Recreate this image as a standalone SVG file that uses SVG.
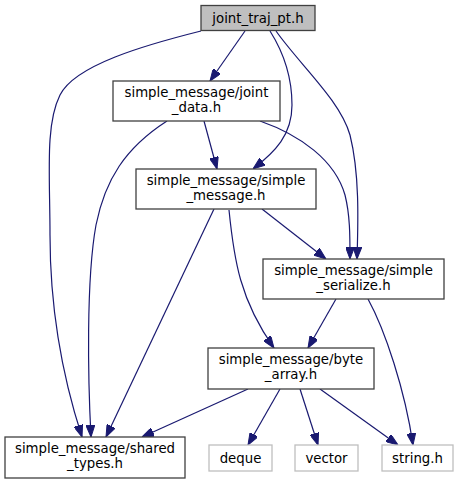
<svg xmlns="http://www.w3.org/2000/svg" width="459" height="484" viewBox="0 0 459 484">
<defs>
<marker id="ah" markerUnits="userSpaceOnUse" markerWidth="12" markerHeight="9" refX="12" refY="4.5" orient="auto">
<path d="M0,0 L12,4.5 L0,9 z" fill="#191970" stroke="#191970" stroke-width="1"/>
</marker>
<style>
.n rect{fill:#fff;stroke:#404040;stroke-width:1.3}
.x rect{fill:#fff;stroke:#bfbfbf;stroke-width:1.3}
.cur rect{fill:#bfbfbf;stroke:#404040;stroke-width:1.3}
text{font-family:"DejaVu Sans",sans-serif;font-size:13.3px;fill:#000;text-anchor:middle}
.e path{fill:none;stroke:#191970;stroke-width:1.2;marker-end:url(#ah)}
</style>
</defs>
<rect width="459" height="484" fill="#fff"/>
<g class="e" id="edges">
<path d="M201,31 C145,45 75,65 60,95 C45,125 50,175 50,235 C50,330 70,400 82,437"/>
<path d="M245,31 L210,81"/>
<path d="M270,31 C282,50 292,75 292,105 C292,135 275,152 253,169"/>
<path d="M276,31 C300,65 340,100 350,135 C360,175 358,225 357,259"/>
<path d="M204,121 L217,169"/>
<path d="M167,121 C125,148 105,180 96,225 C86,280 88,380 91,437"/>
<path d="M260,121 C300,135 335,160 345,195 C350,215 350,235 350,259"/>
<path d="M262,209 L326,259"/>
<path d="M229,210 C234,260 240,300 274,348"/>
<path d="M214,209 L106,437"/>
<path d="M336,299 L308,348"/>
<path d="M368,299 C385,330 405,390 413,445"/>
<path d="M248,389 L142,437"/>
<path d="M280,389 L248,445"/>
<path d="M300,389 L318,445"/>
<path d="M320,389 L398,445"/>
</g>
<g id="joint_traj_pt" class="cur"><rect x="201" y="5.5" width="114" height="25"/><text x="258" y="22.5">joint_traj_pt.h</text></g>
<g id="joint_data" class="n"><rect x="113" y="81" width="167" height="40"/><text x="196.5" y="96.5">simple_message/joint</text><text x="196.5" y="111.5">_data.h</text></g>
<g id="simple_message" class="n"><rect x="136" y="169" width="180" height="40"/><text x="226" y="184.5">simple_message/simple</text><text x="226" y="199.5">_message.h</text></g>
<g id="simple_serialize" class="n"><rect x="263" y="259" width="181" height="40"/><text x="353.5" y="274.5">simple_message/simple</text><text x="353.5" y="289.5">_serialize.h</text></g>
<g id="byte_array" class="n"><rect x="208" y="348" width="166" height="41"/><text x="291" y="363.5">simple_message/byte</text><text x="291" y="378.5">_array.h</text></g>
<g id="shared_types" class="n"><rect x="5" y="437" width="180" height="41"/><text x="95" y="452.5">simple_message/shared</text><text x="95" y="467.5">_types.h</text></g>
<g id="deque" class="x"><rect x="209" y="445" width="63" height="26"/><text x="240.5" y="462.5">deque</text></g>
<g id="vector" class="x"><rect x="295" y="445" width="63" height="26"/><text x="326.5" y="462.5">vector</text></g>
<g id="string_h" class="x"><rect x="382" y="445" width="71" height="26"/><text x="417.5" y="462.5">string.h</text></g>
</svg>
